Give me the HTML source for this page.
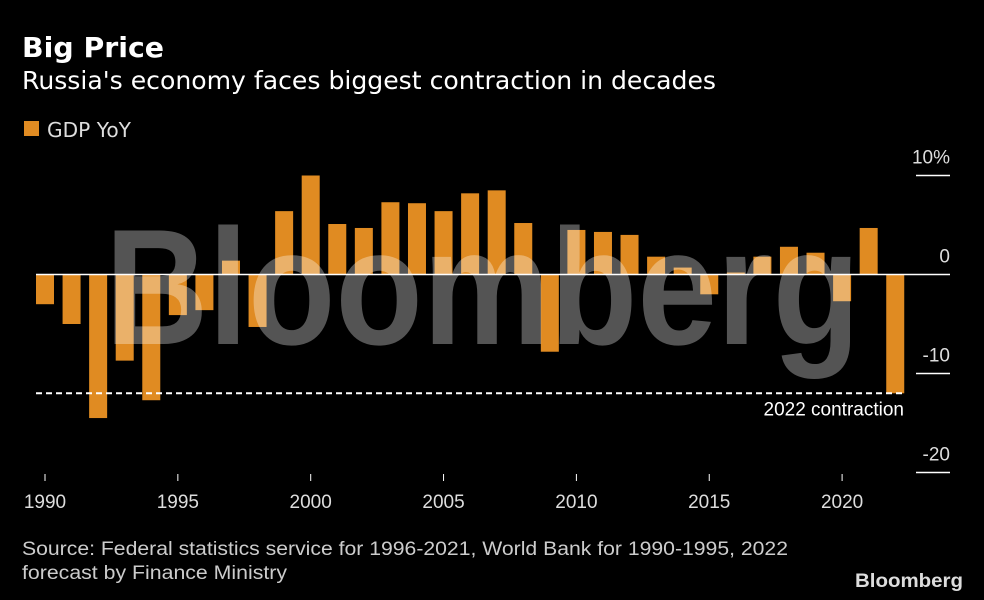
<!DOCTYPE html>
<html><head><meta charset="utf-8"><style>
html,body{margin:0;padding:0;background:#000;}
svg{display:block;}
</style></head><body>
<svg id="chart" width="984" height="600" xmlns="http://www.w3.org/2000/svg">
<rect width="984" height="600" fill="#000"/>
<text x="22" y="57" fill="#fff" font-family="DejaVu Sans, sans-serif" font-weight="bold" font-size="28" textLength="142" lengthAdjust="spacingAndGlyphs">Big Price</text>
<text x="22" y="89" fill="#fff" font-family="DejaVu Sans, sans-serif" font-size="25" textLength="694" lengthAdjust="spacingAndGlyphs">Russia's economy faces biggest contraction in decades</text>
<rect x="24" y="121" width="15" height="15" fill="#e08b22"/>
<text x="47" y="137" fill="#ddd" font-family="DejaVu Sans, sans-serif" font-size="20" textLength="84" lengthAdjust="spacingAndGlyphs">GDP YoY</text>
<g id="bars"></g>
<g id="axes"></g>
<text x="105" y="344" fill="rgba(255,255,255,0.33)" font-family="Liberation Sans, sans-serif" font-weight="bold" font-size="165" textLength="755" lengthAdjust="spacingAndGlyphs">Bloomberg</text>
<text x="22" y="555" fill="#ccc" font-family="Liberation Sans, sans-serif" font-size="19" textLength="766" lengthAdjust="spacingAndGlyphs">Source: Federal statistics service for 1996-2021, World Bank for 1990-1995, 2022</text>
<text x="22" y="579" fill="#ccc" font-family="Liberation Sans, sans-serif" font-size="19" textLength="265" lengthAdjust="spacingAndGlyphs">forecast by Finance Ministry</text>
<text x="855" y="587" fill="#ddd" font-family="Liberation Sans, sans-serif" font-weight="bold" font-size="19" textLength="108" lengthAdjust="spacingAndGlyphs">Bloomberg</text>
</svg>
<script>
const years=[1990,1991,1992,1993,1994,1995,1996,1997,1998,1999,2000,2001,2002,2003,2004,2005,2006,2007,2008,2009,2010,2011,2012,2013,2014,2015,2016,2017,2018,2019,2020,2021,2022];
const gdp=[-3.0,-5.0,-14.5,-8.7,-12.7,-4.1,-3.6,1.4,-5.3,6.4,10.0,5.1,4.7,7.3,7.2,6.4,8.2,8.5,5.2,-7.8,4.5,4.3,4.0,1.8,0.7,-2.0,0.2,1.8,2.8,2.2,-2.7,4.7,-12.0];
const yTicks=[10,0,-10,-20];
const yTickLabels=["10%","0","-10","-20"];
const xTicks=[1990,1995,2000,2005,2010,2015,2020];
const contraction=[-12];
const NS="http://www.w3.org/2000/svg";
const x=yr=>45+(yr-1990)*26.57;
const y=v=>274.5-v*9.9;
const bars=document.getElementById('bars'), axes=document.getElementById('axes');
function mk(tag,attrs,parent){const e=document.createElementNS(NS,tag);for(const k in attrs)e.setAttribute(k,attrs[k]);parent.appendChild(e);return e;}
years.forEach((yr,i)=>{
  const v=gdp[i];
  const r=mk('rect',{x:x(yr)-9,y:Math.min(y(v),y(0)),width:18,height:Math.abs(y(v)-y(0)),fill:'#e08b22'},bars);
  
  
});
const zl=mk('line',{x1:36,x2:950,y1:y(0),y2:y(0),stroke:'#fff','stroke-width':1.5},axes);


yTicks.forEach((t,i)=>{
  if(t!==0){const l=mk('line',{x1:916,x2:950,y1:y(t),y2:y(t),stroke:'#fff','stroke-width':1.5},axes);
  
  }
  const tx=mk('text',{x:950,y:y(t)-12,fill:'#ddd','font-family':'Liberation Sans, sans-serif','font-size':19,'text-anchor':'end'},axes);
  tx.textContent=yTickLabels[i];
  
  
});
xTicks.forEach(t=>{
  const l=mk('line',{x1:x(t),x2:x(t),y1:474,y2:481,stroke:'#fff','stroke-width':1},axes);
  
  
  const tx=mk('text',{x:x(t),y:508,fill:'#ddd','font-family':'Liberation Sans, sans-serif','font-size':19,'text-anchor':'middle'},axes);
  tx.textContent=t;
  
  
});
const dl=mk('line',{x1:36,x2:904,y1:y(contraction[0]),y2:y(contraction[0]),stroke:'#fff','stroke-width':2,'stroke-dasharray':'6,4'},axes);


const dt=mk('text',{x:904,y:y(contraction[0])+22,fill:'#fff','font-family':'Liberation Sans, sans-serif','font-size':19,'text-anchor':'end'},axes);
dt.textContent='2022 contraction';


</script>
</body></html>
